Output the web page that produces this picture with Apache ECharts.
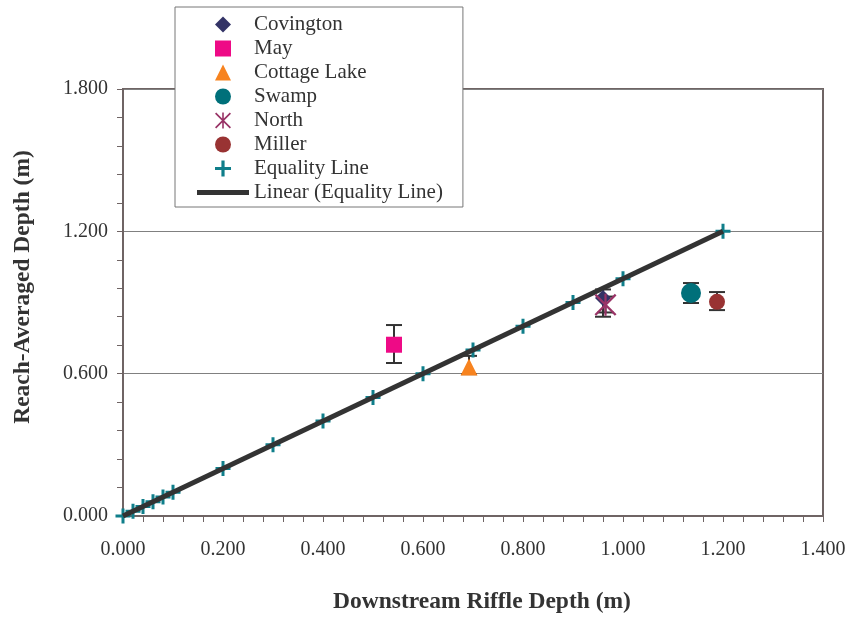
<!DOCTYPE html>
<html>
<head>
<meta charset="utf-8">
<script src="https://cdn.jsdelivr.net/npm/echarts@6/dist/echarts.min.js"></script>
<style>
html,body{margin:0;padding:0;background:#fff;}
#chart{width:851px;height:621px;}
</style>
</head>
<body>
<div id="chart"></div>
<script>
// ---- data ----
const siteNames = ['Covington', 'May', 'Cottage Lake', 'Swamp', 'North', 'Miller'];
// [downstream riffle depth, reach-averaged depth]
const covington = [[0.960, 0.919]];
const may = [[0.542, 0.722]];
const cottageLake = [[0.692, 0.628]];
const swamp = [[1.136, 0.940]];
const north = [[0.965, 0.890]];
const miller = [[1.188, 0.903]];
// error bars: [x, low, high]
const errorBars = [
  [0.960, 0.840, 0.955],
  [0.542, 0.645, 0.805],
  [0.692, 0.598, 0.675],
  [1.136, 0.898, 0.982],
  [0.965, 0.858, 0.925],
  [1.188, 0.868, 0.944]
];
const equalityX = [0, 0.02, 0.04, 0.06, 0.08, 0.1, 0.2, 0.3, 0.4, 0.5, 0.6, 0.7, 0.8, 0.9, 1.0, 1.2];
const equalityY = [0, 0.02, 0.04, 0.06, 0.08, 0.1, 0.2, 0.3, 0.4, 0.5, 0.6, 0.7, 0.8, 0.9, 1.0, 1.2];
const trendX = [0, 1.2];
const trendY = [0, 1.2];
const xTicks = {min: 0, max: 1.4, step: 0.2};
const yTicks = {min: 0, max: 1.8, step: 0.6};

const FONT = '"Liberation Serif", "Times New Roman", serif';
const plusPath = 'path://M6,0h3v6h6v3h-6v6h-3v-6h-6v-3h6z';
const asteriskPath = 'path://M9,0h2v20h-2z M0,1.5L1.5,0L20,18.5L18.5,20Z M18.5,0L20,1.5L1.5,20L0,18.5Z';
const diamondPath = 'path://M8,0L16,8L8,16L0,8Z';
const squarePath = 'path://M0,0h16v16h-16z';
const trianglePath = 'path://M8,0L16,16L0,16Z';
const lineIconPath = 'path://M0,0h52v5h-52z';

const chart = echarts.init(document.getElementById('chart'), null, {renderer: 'canvas'});

function errRender(params, api) {
  const x = api.value(0), lo = api.value(1), hi = api.value(2);
  const p1 = api.coord([x, hi]);
  const p2 = api.coord([x, lo]);
  const w = 8;
  const st = {stroke: '#333', lineWidth: 2};
  return {
    type: 'group',
    children: [
      {type: 'line', shape: {x1: p1[0], y1: p1[1], x2: p2[0], y2: p2[1]}, style: st},
      {type: 'line', shape: {x1: p1[0] - w, y1: p1[1], x2: p1[0] + w, y2: p1[1]}, style: st},
      {type: 'line', shape: {x1: p2[0] - w, y1: p2[1], x2: p2[0] + w, y2: p2[1]}, style: st}
    ]
  };
}

const frameColor = '#6f6464';

const option = {
  backgroundColor: '#fff',
  animation: false,
  textStyle: {fontFamily: FONT},
  grid: {left: 123, right: 28, top: 89, bottom: 105, show: true, borderColor: frameColor, borderWidth: 2, backgroundColor: 'transparent', outerBoundsMode: 'none'},
  xAxis: {
    type: 'value', min: xTicks.min, max: xTicks.max, interval: xTicks.step,
    axisLine: {show: true, onZero: false, lineStyle: {color: frameColor, width: 2}},
    axisTick: {show: true, length: 6, lineStyle: {color: frameColor, width: 1}},
    minorTick: {show: true, splitNumber: 5, length: 6, lineStyle: {color: frameColor, width: 1}},
    splitLine: {show: false},
    axisLabel: {margin: 24, color: '#333', fontSize: 20, fontFamily: FONT, formatter: v => v.toFixed(3)}
  },
  yAxis: {
    type: 'value', min: yTicks.min, max: yTicks.max, interval: yTicks.step,
    axisLine: {show: true, onZero: false, lineStyle: {color: frameColor, width: 2}},
    axisTick: {show: true, length: 6, lineStyle: {color: frameColor, width: 1}},
    minorTick: {show: true, splitNumber: 5, length: 6, lineStyle: {color: frameColor, width: 1}},
    splitLine: {show: true, lineStyle: {color: '#808080', width: 1}},
    axisLabel: {margin: 15, color: '#333', fontSize: 20, fontFamily: FONT, formatter: v => v.toFixed(3)}
  },
  legend: {
    show: true, orient: 'vertical', left: 175, top: 7,
    padding: [7, 20, 4, 22],
    itemWidth: 52, itemHeight: 16, itemGap: 3,
    backgroundColor: '#fff', borderColor: '#777', borderWidth: 1, borderRadius: 0,
    textStyle: {fontFamily: FONT, fontSize: 21, color: '#333'},
    data: [
      {name: 'Covington', icon: diamondPath},
      {name: 'May', icon: squarePath},
      {name: 'Cottage Lake', icon: trianglePath},
      {name: 'Swamp', icon: 'circle'},
      {name: 'North', icon: asteriskPath},
      {name: 'Miller', icon: 'circle'},
      {name: 'Equality Line', icon: plusPath},
      {name: 'Linear (Equality Line)', icon: lineIconPath}
    ],
    selectedMode: false
  },
  graphic: [
    {type: 'text', x: 23, y: 287, rotation: Math.PI / 2, style: {text: 'Reach-Averaged Depth (m)', font: 'bold 23.5px ' + FONT, fill: '#333', align: 'center', verticalAlign: 'middle'}},
    {type: 'text', x: 482, y: 602, style: {text: 'Downstream Riffle Depth (m)', font: 'bold 23.5px ' + FONT, fill: '#333', align: 'center', verticalAlign: 'middle'}}
  ],
  series: [
    {name: 'errors', type: 'custom', renderItem: errRender, data: errorBars, z: 2, silent: true},
    {name: 'Equality Line', type: 'scatter', symbol: plusPath, symbolSize: 15, z: 3,
      itemStyle: {color: '#0f7e8a', opacity: 1},
      data: equalityX.map((x, i) => [x, equalityY[i]])},
    {name: 'Linear (Equality Line)', type: 'line', symbol: 'none', z: 4,
      lineStyle: {color: '#333333', width: 5}, itemStyle: {color: '#333333'},
      data: trendX.map((x, i) => [x, trendY[i]])},
    {name: siteNames[0], type: 'scatter', symbol: 'diamond', symbolSize: 16, z: 5, itemStyle: {color: '#333366', opacity: 1}, data: covington},
    {name: siteNames[1], type: 'scatter', symbol: 'rect', symbolSize: 16, z: 5, itemStyle: {color: '#ee0a86', opacity: 1}, data: may},
    {name: siteNames[2], type: 'scatter', symbol: 'triangle', symbolSize: [17, 17], z: 5, itemStyle: {color: '#f7831f', opacity: 1}, data: cottageLake},
    {name: siteNames[3], type: 'scatter', symbol: 'circle', symbolSize: 20, z: 5, itemStyle: {color: '#00707a', opacity: 1}, data: swamp},
    {name: siteNames[4], type: 'scatter', symbol: asteriskPath, symbolSize: 22, z: 6, itemStyle: {color: '#993366', opacity: 1}, data: north},
    {name: siteNames[5], type: 'scatter', symbol: 'circle', symbolSize: 16, z: 5, itemStyle: {color: '#993333', opacity: 1}, data: miller}
  ]
};
chart.setOption(option);
</script>
</body>
</html>
